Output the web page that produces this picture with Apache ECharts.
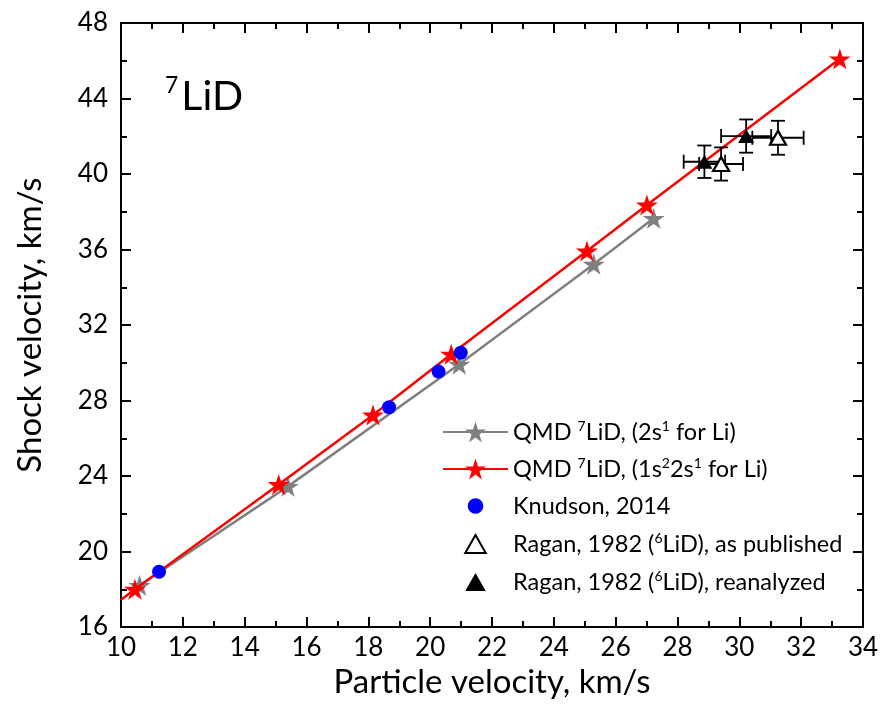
<!DOCTYPE html>
<html>
<head>
<meta charset="utf-8">
<script src="https://cdn.jsdelivr.net/npm/echarts@6/dist/echarts.min.js"></script>
<style>html,body{margin:0;padding:0;background:#fff}#c{width:883px;height:704px}</style>
</head>
<body>
<div id="c"></div>
<script>
// ---- data ----
const upGray = [10.6, 15.4, 20.94, 25.29, 27.23];
const usGray = [18.2, 23.45, 29.92, 35.22, 37.65];
const upRed = [10.45, 15.1, 18.15, 20.68, 25.07, 27.01, 33.25];
const usRed = [18.0, 23.55, 27.23, 30.45, 35.92, 38.36, 46.1];
const redLineStart = [10, 17.45];
const upKnudson = [11.23, 18.67, 20.27, 20.99];
const usKnudson = [18.93, 27.64, 29.53, 30.53];
const upRaganPub = [29.41, 31.25];
const usRaganPub = [40.53, 41.92];
const upErrRaganPub = [0.71, 0.83];
const usErrRaganPub = [0.88, 0.9];
const upRaganRe = [28.87, 30.22];
const usRaganRe = [40.65, 42.01];
const upErrRaganRe = [0.67, 0.81];
const usErrRaganRe = [0.86, 0.88];
const xTicks = {min: 10, max: 34, interval: 2};
const yTicks = {min: 16, max: 48, interval: 4};

const FONT = 'Lato';
const star = 'path://M50 0 L61.23 34.55 L97.55 34.55 L68.17 55.9 L79.39 90.45 L50 69.1 L20.61 90.45 L31.83 55.9 L2.45 34.55 L38.77 34.55 Z';
// legend icons padded with empty move-to points so they stay small in the legend box
const triIcon = 'path://M-10 -20 M110 107 M50 0 L100 87 L0 87 Z';
const circIcon = 'path://M-33 -33 M133 133 M50 0 A50 50 0 1 1 49.99 0 Z';

const zip = (a, b) => a.map((v, i) => [v, b[i]]);
const names = [
  'QMD 7LiD, (2s1 for Li)',
  'QMD 7LiD, (1s22s1 for Li)',
  'Knudson, 2014',
  'Ragan, 1982 (6LiD), as published',
  'Ragan, 1982 (6LiD), reanalyzed'
];
const richNames = {
  [names[0]]: '{t|QMD }{s|7}{t|LiD, (2s}{s|1}{t| for Li)}',
  [names[1]]: '{t|QMD }{s|7}{t|LiD, (1s}{s|2}{t|2s}{s|1}{t| for Li)}',
  [names[2]]: '{t|Knudson, 2014}',
  [names[3]]: '{t|Ragan, 1982 (}{s|6}{t|LiD), as published}',
  [names[4]]: '{t|Ragan, 1982 (}{s|6}{t|LiD), reanalyzed}'
};

function errData(x, y, ex, ey) { return x.map((v, i) => [v, y[i], ex[i], ey[i]]); }
function errRender(params, api) {
  const x = api.value(0), y = api.value(1), ex = api.value(2), ey = api.value(3);
  const l = api.coord([x - ex, y]), r = api.coord([x + ex, y]);
  const t = api.coord([x, y + ey]), b = api.coord([x, y - ey]);
  const c = 7;
  const st = {stroke: '#000', lineWidth: 1.8};
  const line = (x1, y1, x2, y2) => ({type: 'line', shape: {x1, y1, x2, y2}, style: st});
  return {type: 'group', children: [
    line(l[0], l[1], r[0], r[1]),
    line(t[0], t[1], b[0], b[1]),
    line(l[0], l[1] - c, l[0], l[1] + c),
    line(r[0], r[1] - c, r[0], r[1] + c),
    line(t[0] - c, t[1], t[0] + c, t[1]),
    line(b[0] - c, b[1], b[0] + c, b[1])
  ]};
}

const axisCommon = {
  axisLine: {lineStyle: {color: '#000', width: 2}},
  axisTick: {inside: true, length: 10, lineStyle: {color: '#000', width: 2}},
  minorTick: {show: true, splitNumber: 2, length: 6, lineStyle: {color: '#000', width: 2}},
  splitLine: {show: false}
};

const chart = echarts.init(document.getElementById('c'));
chart.setOption({
  animation: false,
  textStyle: {fontFamily: FONT},
  grid: {left: 121, right: 20, top: 23, bottom: 77},
  xAxis: [
    Object.assign({type: 'value', min: xTicks.min, max: xTicks.max, interval: xTicks.interval,
      name: 'Particle velocity, km/s', nameLocation: 'middle', nameGap: 39,
      nameTextStyle: {fontSize: 33, color: '#000', fontFamily: FONT},
      axisLabel: {fontSize: 26, color: '#000', margin: 8, fontFamily: FONT}}, axisCommon),
    Object.assign({type: 'value', position: 'top', min: xTicks.min, max: xTicks.max, interval: xTicks.interval,
      axisLabel: {show: false}}, axisCommon)
  ],
  yAxis: [
    Object.assign({type: 'value', min: yTicks.min, max: yTicks.max, interval: yTicks.interval,
      name: 'Shock velocity, km/s', nameLocation: 'middle', nameGap: 74,
      nameTextStyle: {fontSize: 33, color: '#000', fontFamily: FONT},
      axisLabel: {fontSize: 26, color: '#000', margin: 13, fontFamily: FONT}}, axisCommon),
    Object.assign({type: 'value', position: 'right', min: yTicks.min, max: yTicks.max, interval: yTicks.interval,
      axisLabel: {show: false}}, axisCommon)
  ],
  legend: {
    orient: 'vertical', left: 442, top: 419, padding: 0, itemWidth: 65, itemHeight: 26, itemGap: 11,
    symbolKeepAspect: true,
    data: [
      {name: names[0]},
      {name: names[1]},
      {name: names[2], icon: circIcon},
      {name: names[3], icon: triIcon},
      {name: names[4], icon: triIcon}
    ],
    formatter: n => richNames[n],
    textStyle: {fontFamily: FONT, fontSize: 23.5, color: '#000', lineHeight: 26,
      rich: {t: {fontSize: 23.5, fontFamily: FONT, color: '#000', lineHeight: 26},
             s: {fontSize: 14, fontFamily: FONT, color: '#000', lineHeight: 26, verticalAlign: 'top', padding: [0, 0, 10, 0]}}}
  },
  graphic: [{
    type: 'text', left: 165, top: 74,
    style: {rich: {s: {fontSize: 23, fontFamily: FONT, fill: '#000', padding: [0, 3, 22, 0]},
                   b: {fontSize: 41, fontFamily: FONT, fill: '#000'}},
            text: '{s|7}{b|LiD}'}
  }],
  series: [
    {name: names[0], type: 'line', data: zip(upGray, usGray), symbol: star, symbolSize: 22, symbolKeepAspect: true,
      lineStyle: {color: '#808080', width: 2.5}, itemStyle: {color: '#808080'}, z: 2},
    {name: names[1], type: 'line',
      data: [{value: redLineStart, symbol: 'none'}].concat(zip(upRed, usRed)),
      symbol: star, symbolSize: 22, symbolKeepAspect: true,
      lineStyle: {color: '#ff0000', width: 2.5}, itemStyle: {color: '#ff0000'}, z: 3},
    {name: names[2], type: 'scatter', data: zip(upKnudson, usKnudson), symbol: 'circle', symbolSize: 14,
      itemStyle: {color: '#0000ff', opacity: 1}, z: 4},
    {type: 'custom', renderItem: errRender, data: errData(upRaganPub, usRaganPub, upErrRaganPub, usErrRaganPub), z: 5},
    {type: 'custom', renderItem: errRender, data: errData(upRaganRe, usRaganRe, upErrRaganRe, usErrRaganRe), z: 5},
    {name: names[3], type: 'scatter', data: zip(upRaganPub, usRaganPub), symbol: 'triangle', symbolSize: [16, 14],
      itemStyle: {color: '#fff', borderColor: '#000', borderWidth: 2.2, opacity: 1}, z: 6},
    {name: names[4], type: 'scatter', data: zip(upRaganRe, usRaganRe), symbol: 'triangle', symbolSize: [16, 14],
      itemStyle: {color: '#000', opacity: 1}, z: 6}
  ]
});
</script>
</body>
</html>
